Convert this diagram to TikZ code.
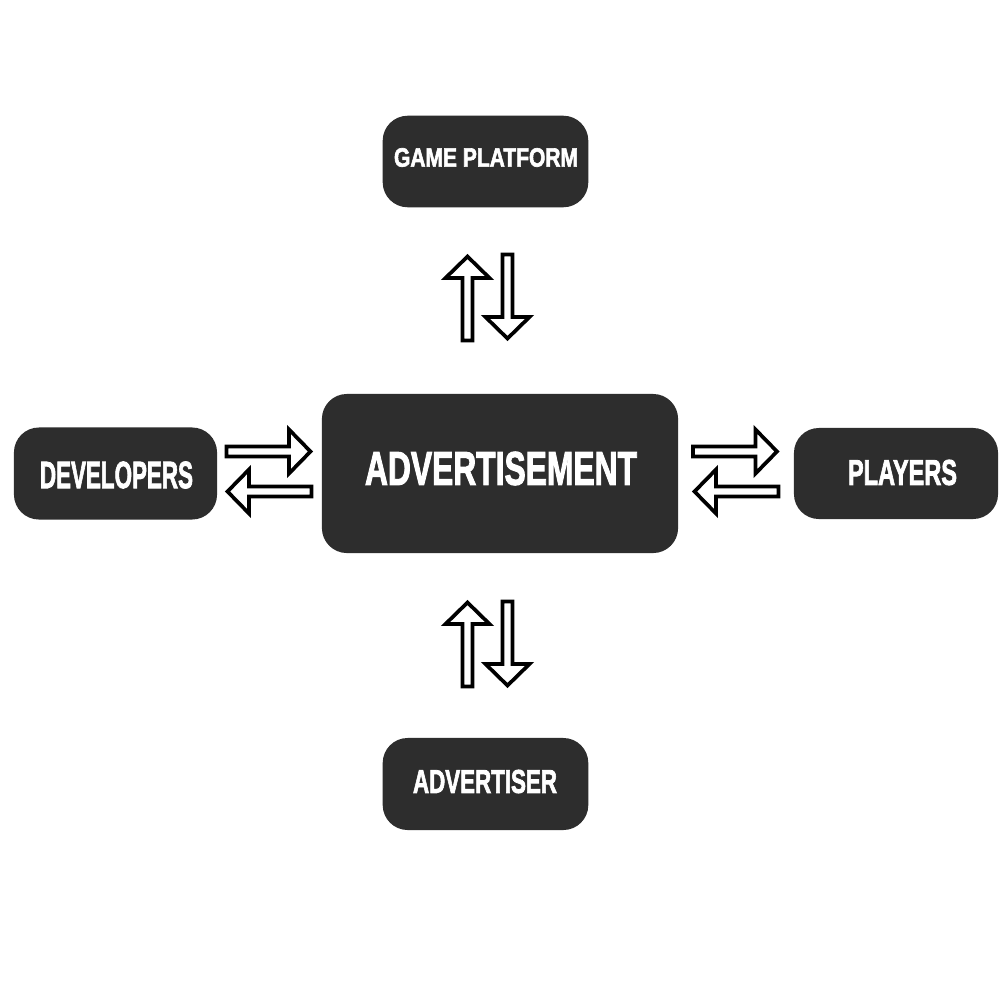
\documentclass[tikz,border=0pt]{standalone}
\usepackage{fontspec}
\setmainfont{Liberation Sans}[BoldFeatures={FakeBold=2.5}]
\usepackage{graphicx}
\definecolor{boxgray}{HTML}{2D2D2D}
\tikzset{
  box/.style={draw=none, fill=boxgray, rounded corners=0.25cm, inner sep=0pt},
  boxtext/.style={text=white, inner sep=0pt, font=\bfseries},
  arrowline/.style={draw=black, fill=white, line width=1.05pt, line join=miter},
  barrow/.pic={
    \path[arrowline] (0,-5) -- (62.5,-5) -- (62.5,-22) -- (84,0) -- (62.5,22) -- (62.5,5) -- (0,5) -- cycle;
  }
}
\newcommand{\fittext}[3]{\resizebox{#1\dimexpr0.01cm\relax}{#2\dimexpr0.01cm\relax}{#3}}
\begin{document}
\begin{tikzpicture}[x=0.01cm, y=-0.01cm]
  \path[fill=white] (0,0) rectangle (1000,1000);
  \useasboundingbox (0,0) rectangle (1000,1000);

  % boxes
  \node[box, minimum width=2.055cm, minimum height=0.915cm] (gp) at (485.5,161.5) {};
  \node[box, minimum width=3.56cm, minimum height=1.59cm] (ad) at (500,473.5) {};
  \node[box, minimum width=2.03cm, minimum height=0.92cm] (dev) at (115.5,473.5) {};
  \node[box, minimum width=2.04cm, minimum height=0.91cm] (pl) at (896,473.5) {};
  \node[box, minimum width=2.055cm, minimum height=0.92cm] (ader) at (485.5,784) {};

  % texts
  \node[boxtext] (gpt) at (486,157.5) {\fittext{184}{18.5}{GAME PLATFORM}};
  \node[boxtext] (adt) at (501,468.5) {\fittext{272}{33}{ADVERTISEMENT}};
  \node[boxtext] (devt) at (116.5,475) {\fittext{153}{26.5}{DEVELOPERS}};
  \node[boxtext] (plt) at (902.5,472.5) {\fittext{109}{25}{PLAYERS}};
  \node[boxtext] (adert) at (485,781.5) {\fittext{144}{23}{ADVERTISER}};

  % arrow anchors
  \coordinate (t-up) at (467.5,340.5);
  \coordinate (t-dn) at (507.5,254.5);
  \coordinate (b-up) at (467.5,686.5);
  \coordinate (b-dn) at (507.5,601.5);
  \coordinate (l-rt) at (226.5,451.5);
  \coordinate (l-lf) at (311.5,491.5);
  \coordinate (r-rt) at (693,451.5);
  \coordinate (r-lf) at (778.5,491.5);

  % block arrows
  \pic[rotate=90] at (t-up) {barrow};
  \pic[rotate=-90] at (t-dn) {barrow};
  \pic[rotate=90] at (b-up) {barrow};
  \pic[rotate=-90] at (b-dn) {barrow};
  \pic at (l-rt) {barrow};
  \pic[rotate=180] at (l-lf) {barrow};
  \pic at (r-rt) {barrow};
  \pic[rotate=180] at (r-lf) {barrow};
\end{tikzpicture}
\end{document}
